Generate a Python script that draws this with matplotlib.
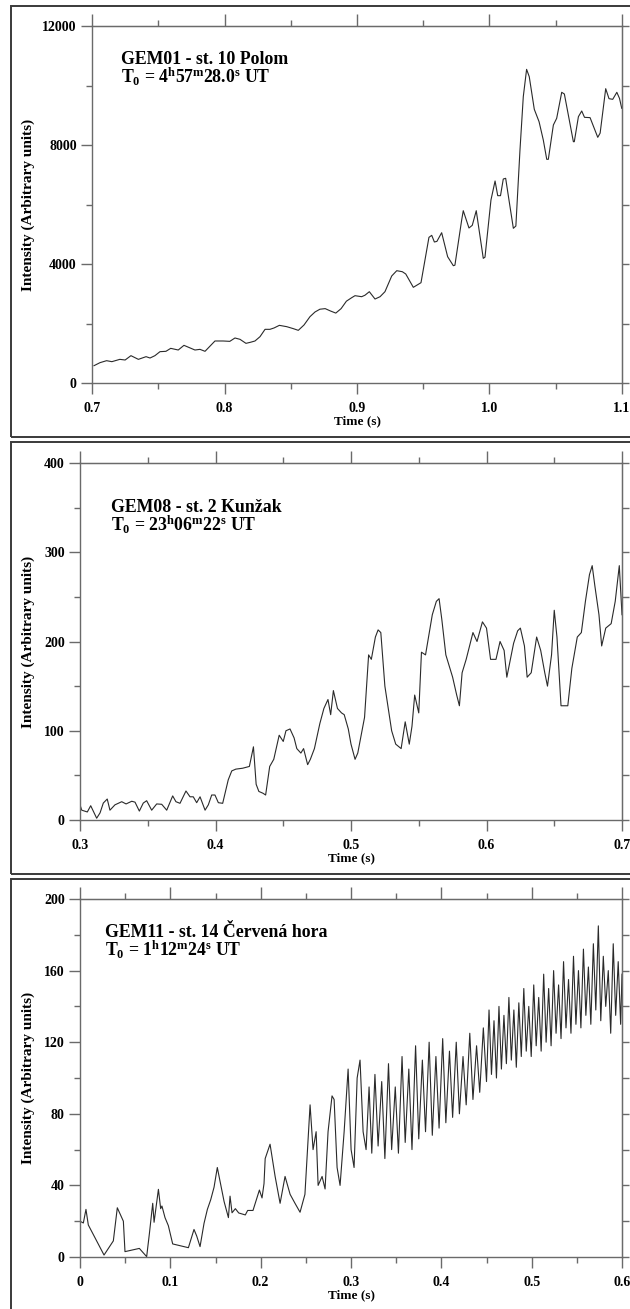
import matplotlib
matplotlib.use("Agg")
import matplotlib.pyplot as plt
from matplotlib.patches import Rectangle
from matplotlib.ticker import MultipleLocator, FuncFormatter

plt.rcParams['font.family'] = 'Liberation Serif'
plt.rcParams['font.weight'] = 'bold'
plt.rcParams['mathtext.fontset'] = 'custom'
plt.rcParams['mathtext.rm'] = 'Liberation Serif:bold'
plt.rcParams['mathtext.it'] = 'Liberation Serif:bold'
plt.rcParams['mathtext.bf'] = 'Liberation Serif:bold'

# GEM01 - Polom
t1 = [0.7015, 0.706, 0.711, 0.715, 0.721, 0.725, 0.7294, 0.735, 0.7408, 0.7438,
      0.7475, 0.7513, 0.7558, 0.7594, 0.7651, 0.7694, 0.7777, 0.7815, 0.7853, 0.7928,
      0.799, 0.804, 0.8079, 0.8117, 0.8162, 0.8197, 0.823, 0.8268, 0.8306, 0.8343,
      0.8374, 0.8414, 0.847, 0.852, 0.8557, 0.860, 0.8645, 0.8683, 0.872, 0.876,
      0.880, 0.884, 0.888, 0.892, 0.896, 0.8985, 0.9035, 0.906, 0.9093, 0.9136,
      0.9174, 0.9211, 0.9262, 0.930, 0.9342, 0.9368, 0.9425, 0.9483, 0.9543, 0.9564,
      0.9584, 0.9603, 0.9639, 0.9684, 0.9727, 0.9739, 0.979, 0.9802, 0.9845, 0.987,
      0.990, 0.9953, 0.9966, 1.0011, 1.0042, 1.0062, 1.0083, 1.0104, 1.0122, 1.0147,
      1.018, 1.0199, 1.023, 1.0255, 1.028, 1.030, 1.0338, 1.0374, 1.0406, 1.0432,
      1.0444, 1.0482, 1.0507, 1.0545, 1.0565, 1.0595, 1.0633, 1.064, 1.0671, 1.0696,
      1.0717, 1.0759, 1.0817, 1.0835, 1.0877, 1.0902, 1.093, 1.0961, 1.0981, 1.0998]
v1 = [582, 683, 750, 717, 795, 773, 919, 795, 885, 840,
      919, 1053, 1065, 1165, 1109, 1266, 1109, 1131, 1065, 1412,
      1412, 1400, 1513, 1468, 1333, 1370, 1412, 1557, 1804, 1804,
      1850, 1938, 1893, 1826, 1770, 1950, 2229, 2387, 2480, 2500,
      2420, 2350, 2500, 2750, 2868, 2935, 2901, 2950, 3069, 2823,
      2901, 3069, 3597, 3775, 3741, 3664, 3216, 3372, 4896, 4963,
      4740, 4760, 5052, 4246, 3943, 3960, 5479, 5792, 5210, 5300,
      5792, 4190, 4230, 6151, 6790, 6297, 6297, 6857, 6880, 6151,
      5200, 5277, 7832, 9624, 10543, 10297, 9200, 8784, 8168, 7519,
      7519, 8672, 8897, 9771, 9714, 9008, 8111, 8111, 8952, 9143,
      8930, 8920, 8258, 8400, 9893, 9557, 9535, 9771, 9568, 9233]

# GEM08 - Kunzak
t2 = [0.3, 0.3013, 0.3054, 0.3079, 0.3123, 0.3148, 0.3172, 0.3201, 0.3221, 0.3258,
      0.3308, 0.334, 0.3382, 0.3406, 0.3438, 0.3467, 0.3492, 0.3529, 0.3566, 0.3603,
      0.364, 0.3684, 0.3708, 0.3738, 0.3782, 0.3812, 0.3836, 0.3861, 0.3886, 0.3923,
      0.3947, 0.3972, 0.3996, 0.4021, 0.4053, 0.4094,
      0.412, 0.415, 0.42, 0.425, 0.428, 0.43, 0.432, 0.435, 0.437, 0.44,
      0.443, 0.447, 0.45, 0.452, 0.455, 0.458, 0.46, 0.463, 0.465, 0.468,
      0.47, 0.473, 0.477, 0.48, 0.483, 0.485, 0.487, 0.49, 0.493, 0.495,
      0.498, 0.50, 0.503, 0.505, 0.51, 0.513, 0.515, 0.518, 0.52, 0.522,
      0.525, 0.528, 0.53, 0.533, 0.537, 0.54, 0.543, 0.545, 0.547, 0.55,
      0.552, 0.555, 0.56, 0.563, 0.565, 0.567, 0.57, 0.575, 0.578, 0.58,
      0.582, 0.585, 0.59, 0.593, 0.597, 0.60, 0.603, 0.607, 0.61, 0.613,
      0.615, 0.617, 0.62, 0.623, 0.625, 0.628, 0.63, 0.633, 0.637, 0.64,
      0.643, 0.645, 0.648, 0.65, 0.652, 0.655, 0.66, 0.663, 0.667, 0.67,
      0.673, 0.676, 0.678, 0.68, 0.683, 0.685, 0.688, 0.692, 0.695, 0.698, 0.70]
v2 = [17, 11, 9, 16, 2, 8, 19, 23.5, 11, 17,
      20.5, 18, 21, 20, 10, 19, 21.6, 11, 18, 17.6,
      11, 27, 20.5, 18.7, 32.5, 26, 26, 19.4, 26, 11,
      17, 28, 28, 19.4, 18.7, 45,
      55, 57, 58, 60, 82, 40, 32, 30, 28, 60,
      68, 95, 88, 100, 102, 92, 80, 75, 80, 62,
      68, 80, 108, 125, 135, 118, 145, 125, 120, 118,
      102, 85, 68, 75, 115, 185, 180, 205, 213, 210,
      150, 120, 100, 85, 80, 110, 85, 105, 140, 120,
      188, 185, 230, 245, 248, 225, 185, 160, 140, 128,
      165, 180, 210, 200, 222, 215, 180, 180, 200, 190,
      160, 175, 198, 212, 215, 195, 160, 165, 205, 190,
      165, 150, 185, 235, 205, 128, 128, 170, 205, 210,
      245, 275, 285, 262, 230, 195, 215, 220, 245, 285, 230]

# GEM11 - Cervena hora
t3 = [0, 0.0037, 0.0066, 0.0092, 0.0266, 0.0369, 0.0413, 0.048, 0.0498, 0.0657,
      0.0738, 0.0768, 0.0805, 0.082, 0.0868, 0.0893, 0.0907, 0.0941, 0.0978, 0.1026,
      0.12, 0.1262, 0.1292, 0.1329, 0.1373, 0.141, 0.1447, 0.1484, 0.152, 0.1595,
      0.1643, 0.1661, 0.1683, 0.172, 0.1757, 0.183, 0.1856, 0.1915, 0.1986, 0.2015,
      0.2037, 0.205, 0.2104, 0.216, 0.2215, 0.227, 0.2326, 0.238, 0.2436, 0.249,
      0.2547, 0.258, 0.2614, 0.2636, 0.268, 0.2713, 0.2746, 0.279, 0.2813, 0.2846,
      0.2879, 0.2924, 0.2968, 0.3001, 0.3034, 0.3068, 0.31, 0.3134, 0.3167, 0.32,
      0.3230, 0.3265, 0.3300, 0.3340, 0.3375, 0.3415, 0.3450, 0.3490, 0.3525, 0.3565,
      0.3600, 0.3640, 0.3675, 0.3715, 0.3750, 0.3790, 0.3825, 0.3865, 0.3900, 0.3940,
      0.3975, 0.4015, 0.4050, 0.4090, 0.4125, 0.4165, 0.4200, 0.4240, 0.4275, 0.4315,
      0.4350, 0.4390, 0.4425, 0.4465,
      0.4500, 0.4528, 0.4555, 0.4583, 0.4610, 0.4638, 0.4665, 0.4693, 0.4720, 0.4748,
      0.4775, 0.4803, 0.4830, 0.4858, 0.4885, 0.4913, 0.4940, 0.4968, 0.4995, 0.5023,
      0.5050, 0.5078, 0.5105, 0.5133, 0.5160, 0.5188, 0.5215, 0.5243, 0.5270, 0.5298,
      0.5325, 0.5353, 0.5380, 0.5408, 0.5435, 0.5463, 0.5490, 0.5518, 0.5545, 0.5573,
      0.5600, 0.5628, 0.5655, 0.5683, 0.5710, 0.5738, 0.5765, 0.5793, 0.5820, 0.5848,
      0.5875, 0.5903, 0.5930, 0.5958, 0.5985, 0.6000]
v3 = [20, 19, 26.6, 17.9, 1.1, 9, 27.5, 20, 3, 4.8,
      0.2, 13, 30, 19.4, 37.8, 27, 28.5, 22, 17.5, 7.3,
      5.2, 15.4, 11.7, 5.8, 18.8, 26.6, 32, 39, 50, 31,
      22, 34, 24.7, 27, 24.6, 23.5, 26, 26, 37.4, 33,
      41, 55, 63, 45, 30, 45, 35, 30, 25, 35,
      85, 60, 70, 40, 45, 38, 70, 90, 88, 50,
      40, 70, 105, 60, 50, 100, 110, 70, 60, 95,
      58, 102, 62, 98, 55, 108, 60, 95, 58, 112,
      64, 105, 60, 118, 66, 110, 70, 120, 68, 112,
      72, 122, 75, 115, 78, 120, 80, 112, 85, 125,
      88, 118, 92, 128,
      98, 138, 102, 132, 100, 140, 105, 135, 108, 145,
      110, 138, 106, 142, 112, 150, 115, 140, 112, 152,
      118, 145, 115, 158, 120, 150, 118, 160, 125, 152,
      122, 165, 128, 155, 125, 168, 130, 160, 128, 172,
      135, 162, 130, 175, 138, 185, 132, 168, 140, 160,
      125, 175, 135, 165, 130, 158]

W, H = 630, 1309
fig = plt.figure(figsize=(W / 100, H / 100), dpi=100)

GREY = '#6a6a6a'
LINE = '#2a2a2a'


def px_axes(left, right, top, bottom):
    return fig.add_axes([left / W, 1 - bottom / H, (right - left) / W, (bottom - top) / H])


def time_label(x, pos):
    return '0' if abs(x) < 1e-9 else '%.1f' % x


def panel(box, rect, t, v, xlim, ylim, xmaj, ymaj, title, t0, title_xy):
    # outer frame of the panel
    bt, bb = box
    fig.add_artist(Rectangle((11 / W, 1 - bb / H), 1.2, (bb - bt) / H,
                             transform=fig.transFigure, fill=False,
                             edgecolor='#3a3a3a', lw=1.4, clip_on=False))
    ax = px_axes(*rect)
    ax.plot(t, v, color=LINE, lw=0.8)
    ax.set_xlim(*xlim)
    ax.set_ylim(*ylim)
    ax.xaxis.set_major_locator(MultipleLocator(xmaj))
    ax.xaxis.set_minor_locator(MultipleLocator(xmaj / 2))
    ax.xaxis.set_major_formatter(FuncFormatter(time_label))
    ax.yaxis.set_major_locator(MultipleLocator(ymaj))
    ax.yaxis.set_minor_locator(MultipleLocator(ymaj / 2))
    for s in ax.spines.values():
        s.set_color(GREY)
        s.set_linewidth(1.0)
    ax.tick_params(which='both', direction='out', color=GREY, width=1.0,
                   labelsize=10, top=False, right=False)
    ax.tick_params(axis='x', which='major', length=8, pad=6)
    ax.tick_params(axis='x', which='minor', length=4.3)
    ax.tick_params(axis='y', which='major', length=8, pad=3)
    ax.tick_params(axis='y', which='minor', length=4.3)
    for lab in ax.get_xticklabels() + ax.get_yticklabels():
        lab.set_fontweight('bold')

    top = ax.secondary_xaxis('top')
    top.xaxis.set_major_locator(MultipleLocator(xmaj))
    top.xaxis.set_minor_locator(MultipleLocator(xmaj / 2))
    top.tick_params(which='both', direction='out', color=GREY, width=1.0, labeltop=False)
    top.tick_params(which='major', length=8.6)
    top.tick_params(which='minor', length=4.3)
    top.spines['top'].set_color(GREY)

    right = ax.secondary_yaxis('right')
    right.yaxis.set_major_locator(MultipleLocator(ymaj / 2))
    right.yaxis.set_minor_locator(plt.NullLocator())
    right.tick_params(which='major', direction='out', color=GREY, width=1.0,
                      length=5, labelright=False)
    right.spines['right'].set_color(GREY)

    ax.set_xlabel('Time (s)', fontsize=9.5, fontweight='bold', labelpad=0)
    ax.set_ylabel('Intensity (Arbitrary units)', fontsize=11, fontweight='bold')
    ax.yaxis.set_label_coords(-(rect[0] - 35) / (rect[1] - rect[0]), 0.5)

    tx, ty = title_xy
    fig.text(tx / W, 1 - ty / H, title, fontsize=12.8, fontweight='bold', va='baseline')
    fig.text(tx / W, 1 - (ty + 19) / H, t0, fontsize=12.8, fontweight='bold', va='baseline')
    return ax


panel((6, 437), (92, 622, 26, 383), t1, v1, (0.7, 1.1), (0, 12000), 0.1, 4000,
      'GEM01 - st. 10 Polom',
      r'T$_{0}$ = 4$^{\mathrm{h}}$57$^{\mathrm{m}}$28.0$^{\mathrm{s}}$ UT', (121, 64))
panel((442, 874), (80, 622, 463, 820), t2, v2, (0.3, 0.7), (0, 400), 0.1, 100,
      'GEM08 - st. 2 Kunžak',
      r'T$_{0}$ = 23$^{\mathrm{h}}$06$^{\mathrm{m}}$22$^{\mathrm{s}}$ UT', (111, 512))
panel((879, 1320), (80, 622, 899, 1257), t3, v3, (0, 0.6), (0, 200), 0.1, 40,
      'GEM11 - st. 14 Červená hora',
      r'T$_{0}$ = 1$^{\mathrm{h}}$12$^{\mathrm{m}}$24$^{\mathrm{s}}$ UT', (105, 937))

fig.savefig('out.png', dpi=100)
